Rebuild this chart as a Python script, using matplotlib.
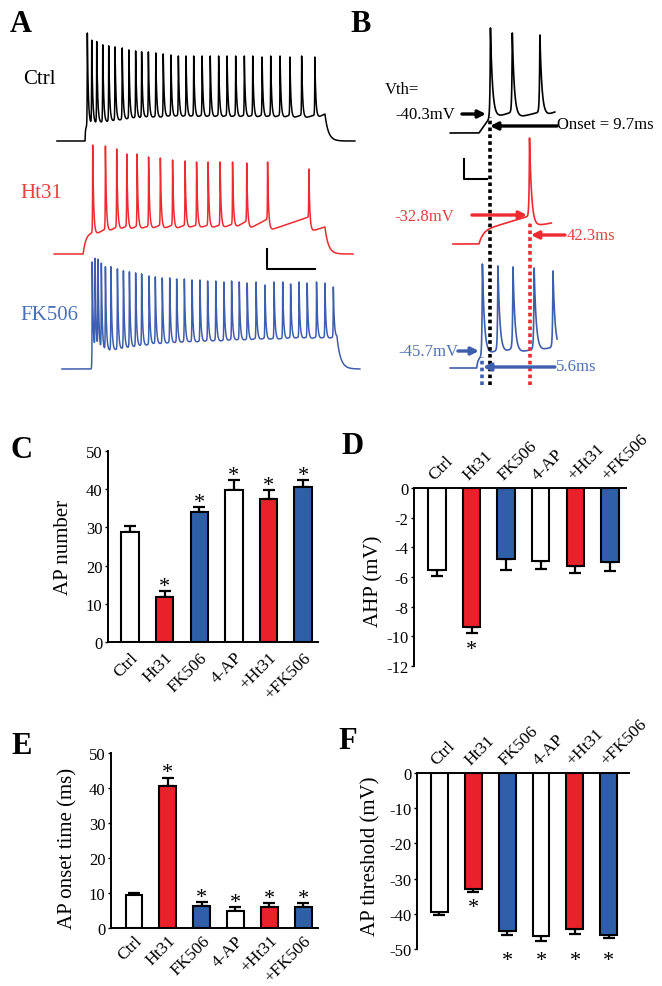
import numpy as np
import matplotlib.pyplot as plt

plt.rcParams['font.family'] = ['Liberation Serif', 'DejaVu Serif']
plt.rcParams['axes.unicode_minus'] = False

W, H = 662, 987

RED = '#E8212B'
BLUE = '#2F5FA9'
TRACE_RED = '#EE2B30'
TRACE_BLUE = '#3E5EAE'
TEXT_RED = '#E8403F'
TEXT_BLUE = '#4A70B5'

# ---------------- bar chart data (panels C-F) ----------------
groups = ['Ctrl', 'Ht31', 'FK506', '4-AP', '+Ht31', '+FK506']
bar_colors = ['white', RED, BLUE, 'white', RED, BLUE]

ap_number = [28.9, 11.9, 34.1, 39.9, 37.4, 40.6]
ap_number_err = [1.4, 1.4, 1.2, 2.6, 2.4, 1.9]
ap_number_sig = [False, True, True, True, True, True]

ahp = [-5.5, -9.35, -4.8, -4.9, -5.25, -5.0]
ahp_err = [0.4, 0.45, 0.7, 0.55, 0.5, 0.6]
ahp_sig = [False, True, False, False, False, False]

onset = [9.5, 40.5, 6.2, 5.0, 6.1, 6.1]
onset_err = [0.5, 2.5, 1.3, 0.9, 1.1, 1.1]
onset_sig = [False, True, True, True, True, True]

threshold = [-39.4, -32.9, -44.8, -46.4, -44.3, -46.0]
threshold_err = [0.9, 0.8, 1.2, 1.3, 1.4, 1.0]
threshold_sig = [False, True, True, True, True, True]

# ---------------- panel A traces (ms from step onset, mV) ----------------
ctrl_spike_t = [9.6, 27.9, 48.8, 73.8, 98.8, 125, 155, 183, 211, 236, 264, 295, 326, 358, 389,
                421, 453, 488, 522, 557, 592, 628, 664, 699, 738, 774, 813, 854, 903, 958]
ctrl_peak = [38, 32, 29, 26, 25, 24, 23, 21, 20, 19, 19, 18, 17, 16, 15,
             15, 15, 15, 15, 15, 15, 15, 15, 15, 14, 15, 15, 14, 15, 14]
ctrl_trough = [-55, -55, -54, -54, -53, -52, -51, -50, -50, -49, -49, -49, -48, -48, -48,
               -48, -48, -48, -48, -48, -48, -48, -48, -48, -48, -48, -48, -48, -48, -48]
ctrl_pre = [-53, -52, -51, -50, -49, -48, -47, -46, -46, -45, -45, -45, -44, -44,
            -44, -44, -44, -44, -44, -44, -44, -44, -44, -44, -44, -44, -44, -44, -44]

ht31_spike_t = [32, 85, 132, 174, 217, 265, 314, 365, 417, 465, 513, 563, 615, 674, 761, 933]
ht31_peak = [39, 38, 35, 30, 30, 27, 26, 24, 23, 22, 22, 22, 22, 21, 22, 15]
ht31_trough = [-52, -49, -47, -47, -46, -46, -46, -46, -45, -45, -45, -45, -45, -46, -47, -48]
ht31_pre = [-45, -43, -42, -42, -42, -41, -41, -41, -41, -41, -41, -40, -37, -35, -33]

fk_spike_t = [30, 42, 54, 68, 85, 108, 135, 160, 185, 211, 236, 267, 293, 322, 353, 382, 414, 446,
              479, 511, 545, 579, 611, 643, 676, 713, 750, 788, 824, 857, 892, 926, 965, 1000, 1035]
fk_peak = [37, 36, 35, 33, 31, 32, 30, 28, 27, 26, 25, 23, 22, 21, 21, 20, 20, 19,
           19, 18, 18, 17, 18, 17, 16, 17, 14, 17, 17, 15, 17, 16, 17, 16, 12]
fk_trough = [-57, -57, -56, -56, -55, -54, -53, -52, -51, -50, -49, -48, -47, -47, -46, -46, -45, -45,
             -45, -44, -44, -44, -43, -43, -43, -42, -42, -42, -42, -41, -41, -41, -41, -41, -41]
fk_pre = [-55, -54, -53, -52, -51, -50, -49, -48, -47, -46, -45, -44, -44, -43, -43, -42, -42,
          -42, -41, -41, -41, -40, -40, -40, -39, -39, -39, -39, -38, -38, -38, -38, -38, -38]

# ---------------- panel B traces (ms from step onset, mV) ----------------
b_ctrl_spike_t = [10, 29, 53]
b_ctrl_peak = [35, 30, 28]
b_ctrl_trough = [-56, -56, -55]
b_ctrl_pre = [-49, -49]

b_ht31_spike_t = [44]
b_ht31_peak = [36]
b_ht31_trough = [-53]
b_ht31_pre = []

b_fk_spike_t = [3, 16.5, 29.6, 48, 64.4]
b_fk_peak = [34, 32, 31, 30, 27]
b_fk_trough = [-59, -58, -56, -54, -54]
b_fk_pre = [-52, -50, -51, -49]

b_vth_labels = ['-40.3mV', '-32.8mV', '-45.7mV']
b_onset_labels = ['Onset = 9.7ms', '42.3ms', '5.6ms']


def fx(x):
    return x / W


def fy(y):
    return 1 - y / H


def make_trace(t, rest, t_on, t_off, jump, jump_tau, drift, spk_t, peak, trough, pre,
               tail, off_tau, tau_r, tau_d):
    """Schematic membrane potential built from spike times and levels."""
    v = np.full_like(t, rest, dtype=float)
    m = (t >= t_on) & (t < spk_t[0])
    v[m] = rest + jump * (1 - np.exp(-(t[m] - t_on) / jump_tau)) + drift * (t[m] - t_on)
    d0 = spk_t[0] - t_on
    first_level = rest + jump * (1 - np.exp(-d0 / jump_tau)) + drift * d0
    levels_before = [first_level] + list(pre)
    n = len(spk_t)
    for i in range(n):
        ta = spk_t[i]
        tb = spk_t[i + 1] if i < n - 1 else t_off
        vb = pre[i] if i < n - 1 else tail
        m = (t >= ta) & (t < tb)
        v[m] = trough[i] + (vb - trough[i]) * (t[m] - ta) / (tb - ta)
    m = t >= t_off
    v[m] = rest + (tail - rest) * np.exp(-(t[m] - t_off) / off_tau)
    for i in range(n):
        ts = spk_t[i]
        before = (t < ts) & (t > ts - 8 * tau_r)
        v[before] += (peak[i] - levels_before[i]) * np.exp(-(ts - t[before]) / tau_r)
        after = (t >= ts) & (t < ts + 10 * tau_d)
        v[after] += (peak[i] - trough[i]) * np.exp(-(t[after] - ts) / tau_d)
    return v


fig = plt.figure(figsize=(W / 100, H / 100), dpi=100)

# ---------------- panel A ----------------
axA = fig.add_axes([fx(50), fy(390), fx(315), 370 / H])
axA.set_xlim(-146, 1167)
axA.set_ylim(-318, 52)
axA.axis('off')

t = np.arange(-117, 1125, 0.2)
v = make_trace(t, -70, 0, 1000, 14, 1.5, 0, ctrl_spike_t, ctrl_peak, ctrl_trough, ctrl_pre,
               -43, 14, 0.8, 4)
axA.plot(t, v, color='black', lw=1.1)

t = np.arange(-129, 1117, 0.2)
v = make_trace(t, -70, -8, 1000, 22, 12, 0, ht31_spike_t, ht31_peak, ht31_trough, ht31_pre,
               -43, 14, 0.8, 4)
axA.plot(t, v - 113, color=TRACE_RED, lw=1.1)

t = np.arange(-96, 1146, 0.2)
v = make_trace(t, -70, 29, 1050, 13, 0.5, 0, fk_spike_t, fk_peak, fk_trough, fk_pre,
               -38, 15, 0.8, 4)
axA.plot(t, v - 228, color=TRACE_BLUE, lw=1.1)

# scale bar (200 ms, 20 mV)
axA.plot([758, 758, 958], [-178, -198, -198], color='black', lw=1.5)

fig.text(fx(39), fy(80), 'Ctrl', ha='center', va='center', fontsize=15)
fig.text(fx(41), fy(193), 'Ht31', ha='center', va='center', fontsize=15, color=TEXT_RED)
fig.text(fx(49), fy(316), 'FK506', ha='center', va='center', fontsize=15, color=TEXT_BLUE)

# ---------------- panel B ----------------
axB = fig.add_axes([fx(440), fy(395), fx(160), 375 / H])
axB.set_xlim(-33.9, 105.3)
axB.set_ylim(-331, 44)
axB.axis('off')

t = np.arange(-25, 66, 0.02)
v = make_trace(t, -70, 0, 66.1, 0, 1, 1.6, b_ctrl_spike_t, b_ctrl_peak, b_ctrl_trough,
               b_ctrl_pre, -49, 10, 0.4, 1.8)
axB.plot(t, v, color='black', lw=1.2)

t = np.arange(-22.6, 63, 0.02)
v = make_trace(t, -70, 0, 63.1, 13, 3.5, 0.34, b_ht31_spike_t, b_ht31_peak, b_ht31_trough,
               b_ht31_pre, -49, 10, 0.4, 1.8)
axB.plot(t, v - 111, color=TRACE_RED, lw=1.2)

t = np.arange(-25, 68, 0.02)
v = make_trace(t, -70, -2, 68.1, 11, 1.2, 0, b_fk_spike_t, b_fk_peak, b_fk_trough,
               b_fk_pre, -52, 10, 0.4, 1.8)
axB.plot(t, v - 235, color=TRACE_BLUE, lw=1.2)

# onset guide lines
dots = (0, (1.0, 0.9))
axB.vlines(b_ctrl_spike_t[0], -322, -54, colors='black', lw=2.6, linestyles=[dots])
axB.vlines(b_ht31_spike_t[0], -322, -158, colors=TRACE_RED, lw=2.6, linestyles=[dots])
axB.vlines(b_fk_spike_t[0], -322, -294, colors=TRACE_BLUE, lw=2.6, linestyles=[dots])

# scale bar (20 ms, 20 mV)
axB.plot([-13, -13, 7], [-96, -116, -116], color='black', lw=1.5)


def arrow(ax, x0, x1, y, color):
    ax.annotate('', xy=(x1, y), xytext=(x0, y),
                arrowprops=dict(arrowstyle='-|>', color=color, lw=2.4,
                                mutation_scale=11, shrinkA=0, shrinkB=0))


arrow(axB, -14.8, 6.1, -51, 'black')
arrow(axB, 67.9, 9.6, -63, 'black')
arrow(axB, -6.1, 41.8, -152, TRACE_RED)
arrow(axB, 74.8, 45.2, -172, TRACE_RED)
arrow(axB, -18.3, 0, -288, TRACE_BLUE)
arrow(axB, 66.1, 3.5, -304, TRACE_BLUE)

fig.text(fx(385), fy(90), 'Vth=', ha='left', va='center', fontsize=12)
fig.text(fx(455), fy(115), b_vth_labels[0], ha='right', va='center', fontsize=12)
fig.text(fx(557), fy(125), b_onset_labels[0], ha='left', va='center', fontsize=12)
fig.text(fx(454), fy(217), b_vth_labels[1], ha='right', va='center', fontsize=12, color=TEXT_RED)
fig.text(fx(567), fy(236), b_onset_labels[1], ha='left', va='center', fontsize=12, color=TEXT_RED)
fig.text(fx(458), fy(352), b_vth_labels[2], ha='right', va='center', fontsize=12, color=TEXT_BLUE)
fig.text(fx(556), fy(367), b_onset_labels[2], ha='left', va='center', fontsize=12, color=TEXT_BLUE)


# ---------------- bar panels ----------------
def bar_panel(box, values, errors, sig, ylim, yticks, ylabel, label_xy, xlim, top_axis, xpad):
    left, top, right, bottom = box
    ax = fig.add_axes([fx(left), fy(bottom), (right - left) / W, (bottom - top) / H])
    x = np.arange(len(groups))
    vals = np.array(values)
    errs = np.array(errors)
    ax.bar(x, vals, width=0.5, color=bar_colors, edgecolor='black', linewidth=1.5, zorder=2)
    if top_axis:
        yerr = [errs, np.zeros_like(errs)]
    else:
        yerr = [np.zeros_like(errs), errs]
    ax.errorbar(x, vals, yerr=yerr, fmt='none', ecolor='black', elinewidth=1.6,
                capsize=4, capthick=1.6, zorder=1)
    ax.set_xlim(*xlim)
    ax.set_ylim(*ylim)
    ax.set_yticks(yticks)
    ax.set_xticks(x)
    for side in ['right', 'bottom' if top_axis else 'top']:
        ax.spines[side].set_visible(False)
    for side in ['left', 'top' if top_axis else 'bottom']:
        ax.spines[side].set_linewidth(1.4)
    if top_axis:
        ax.xaxis.tick_top()
        ax.set_xticklabels(groups, rotation=45, ha='left', va='bottom', rotation_mode='anchor')
    else:
        ax.set_xticklabels(groups, rotation=45, ha='right', va='top', rotation_mode='anchor')
    ax.tick_params(axis='x', length=0, pad=xpad, labelsize=12.5)
    ax.tick_params(axis='y', length=2.5, width=1, pad=1.5, labelsize=12)
    ax.set_ylabel(ylabel, fontsize=15)
    ax.yaxis.set_label_coords(*label_xy)
    for xi, val, err, s in zip(x, vals, errs, sig):
        if not s:
            continue
        if top_axis:
            end = val - err
            if end < ylim[0] * 0.88:
                ax.annotate('*', xy=(xi, ylim[0]), xytext=(0, -11.5), textcoords='offset points',
                            ha='center', va='baseline', fontsize=16, annotation_clip=False)
            else:
                ax.annotate('*', xy=(xi, end), xytext=(0, -15), textcoords='offset points',
                            ha='center', va='baseline', fontsize=16, annotation_clip=False)
        else:
            ax.annotate('*', xy=(xi, val + err), xytext=(0, 0), textcoords='offset points',
                        ha='center', va='baseline', fontsize=16, annotation_clip=False)
    return ax


bar_panel((108, 452, 318, 643), ap_number, ap_number_err, ap_number_sig, (0, 50),
          range(0, 51, 10), 'AP number', (-0.167, 0.5), (-0.64, 5.43), False, 5)
bar_panel((414, 489, 626, 667), ahp, ahp_err, ahp_sig, (-12, 0),
          range(-12, 1, 2), 'AHP (mV)', (-0.142, 0.48), (-0.66, 5.46), True, 4)
bar_panel((111, 754, 318, 929), onset, onset_err, onset_sig, (0, 50),
          range(0, 51, 10), 'AP onset time (ms)', (-0.16, 0.46), (-0.68, 5.44), False, 3)
bar_panel((417, 774, 629, 950), threshold, threshold_err, threshold_sig, (-50, 0),
          range(-50, 1, 10), 'AP threshold (mV)', (-0.17, 0.53), (-0.65, 5.59), True, 4)

# panel letters
for letter, (px, py) in zip('ABCDEF', [(21, 24), (361, 24), (22, 450), (353, 446), (22, 747), (348, 742)]):
    fig.text(fx(px), fy(py), letter, ha='center', va='center', fontsize=22, fontweight='bold')

fig.savefig('out.png', dpi=100)
